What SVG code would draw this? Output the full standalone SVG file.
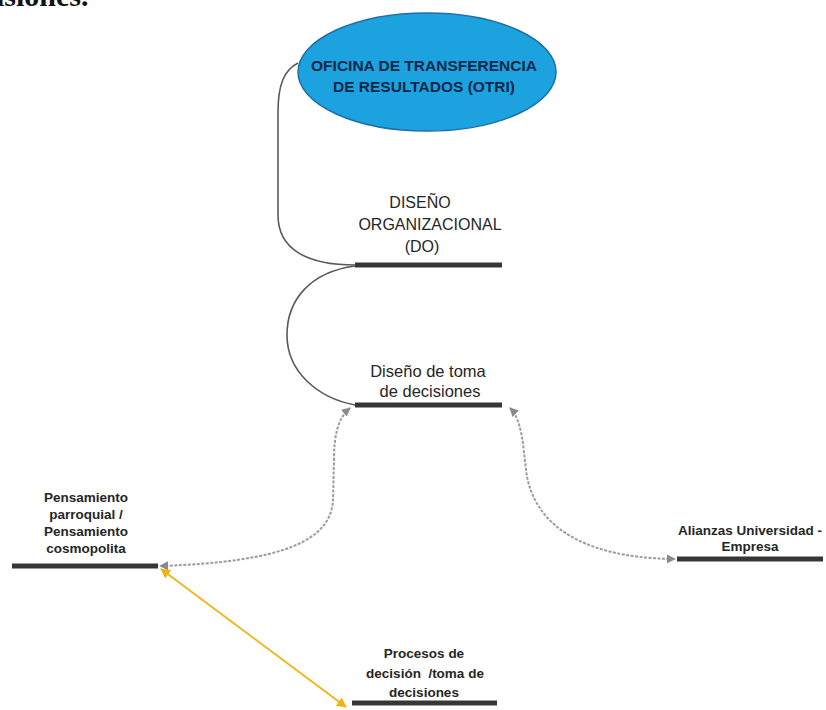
<svg xmlns="http://www.w3.org/2000/svg" width="826" height="710" viewBox="0 0 826 710">
  <style>
    .bar { stroke: #363636; stroke-width: 5; fill: none; }
    .link { fill: none; stroke: #5a5a5a; stroke-width: 1.6; }
    .dash { fill: none; stroke: #9c9c9c; stroke-width: 2; stroke-dasharray: 3 1.5; }
    .gold { fill: none; stroke: #f0b414; stroke-width: 1.8; }
    .lbl { font-family: "Liberation Sans", Arial, sans-serif; fill: #262626; text-anchor: middle; }
    .reg { font-size: 16px; }
    .big { font-size: 16.5px; }
    .sm { font-size: 13.5px; font-weight: bold; }
    .title { font-family: "Liberation Sans", Arial, sans-serif; font-size: 15.5px; font-weight: bold; fill: #0c2748; text-anchor: middle; }
    .head { font-family: "Liberation Serif", "Times New Roman", serif; font-size: 30px; font-weight: bold; fill: #111; }
  </style>
  <defs>
    <marker id="arrowGray" viewBox="0 0 10 10" refX="9" refY="5" markerWidth="9" markerHeight="9" markerUnits="userSpaceOnUse" orient="auto-start-reverse">
      <path d="M0,0 L10,5 L0,10 Z" fill="#8a8a8a"/>
    </marker>
    <marker id="arrowGold" viewBox="0 0 10 10" refX="9" refY="5" markerWidth="10" markerHeight="10" markerUnits="userSpaceOnUse" orient="auto-start-reverse">
      <path d="M0,0 L10,5 L0,10 Z" fill="#f0b414"/>
    </marker>
  </defs>

  <rect width="826" height="710" fill="#ffffff"/>

  <!-- heading running off the top edge -->
  <text class="head" x="-4" y="6">isiones.</text>

  <!-- connectors -->
  <g id="connectors">
    <path class="link" d="M298,63 C284,70 278,85 278,112 L278,215 C278,250 308,265 355,265"/>
    <path class="link" d="M355,266 C310,272 287,300 287,335 C287,372 318,398 355,405"/>
    <path class="dash" marker-start="url(#arrowGray)" marker-end="url(#arrowGray)" d="M350,408 C338,418 334,435 334,460 L333,500 C331,540 285,562 160,566"/>
    <path class="dash" marker-start="url(#arrowGray)" marker-end="url(#arrowGray)" d="M510,408 C522,420 523,445 526,470 C532,520 575,558 675,559"/>
    <path class="gold" marker-start="url(#arrowGold)" marker-end="url(#arrowGold)" d="M161,569 Q245,632 346,707"/>
  </g>

  <!-- nodes -->
  <g id="otri">
    <ellipse cx="427" cy="72" rx="129" ry="59" fill="#1ba2df" stroke="#1e6fa8" stroke-width="1.5"/>
    <text class="title" x="424" y="71">OFICINA DE TRANSFERENCIA</text>
    <text class="title" x="424" y="92">DE RESULTADOS (OTRI)</text>
  </g>

  <g id="diseno-organizacional">
    <text class="lbl reg" x="420" y="208">DISEÑO</text>
    <text class="lbl reg" x="430" y="230">ORGANIZACIONAL</text>
    <text class="lbl reg" x="422" y="252">(DO)</text>
    <line class="bar" x1="355" y1="265" x2="502" y2="265"/>
  </g>

  <g id="diseno-toma-decisiones">
    <text class="lbl big" x="428" y="377">Diseño de toma</text>
    <text class="lbl big" x="430" y="397">de decisiones</text>
    <line class="bar" x1="355" y1="405" x2="502" y2="405"/>
  </g>

  <g id="pensamiento">
    <text class="lbl sm" x="86" y="502">Pensamiento</text>
    <text class="lbl sm" x="86" y="519">parroquial /</text>
    <text class="lbl sm" x="86" y="536">Pensamiento</text>
    <text class="lbl sm" x="86" y="553">cosmopolita</text>
    <line class="bar" x1="12" y1="566" x2="158" y2="566"/>
  </g>

  <g id="alianzas">
    <text class="lbl sm" x="750" y="535">Alianzas Universidad -</text>
    <text class="lbl sm" x="750" y="551">Empresa</text>
    <line class="bar" x1="677" y1="559" x2="823" y2="559"/>
  </g>

  <g id="procesos-decision">
    <text class="lbl sm" x="424" y="658">Procesos de</text>
    <text class="lbl sm" x="425" y="678" style="white-space: pre">decisión  /toma de</text>
    <text class="lbl sm" x="424" y="697">decisiones</text>
    <line class="bar" x1="352" y1="703" x2="497" y2="703"/>
  </g>
</svg>
